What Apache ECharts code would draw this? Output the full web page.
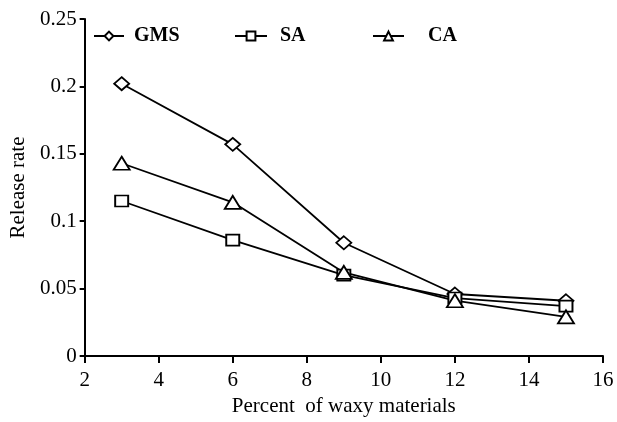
<!DOCTYPE html>
<html>
<head>
<meta charset="utf-8">
<script src="https://cdn.jsdelivr.net/npm/echarts@6/dist/echarts.min.js"></script>
<style>
  html, body { margin: 0; padding: 0; background: #fff; }
  #chart { width: 617px; height: 422px; }
</style>
</head>
<body>
<div id="chart"></div>
<script>
// Release rate versus percentage of waxy material
const percent = [3, 6, 9, 12, 15];
const gms = [0.202, 0.157, 0.084, 0.046, 0.041];
const sa  = [0.115, 0.086, 0.060, 0.043, 0.037];
const ca  = [0.143, 0.114, 0.062, 0.041, 0.029];
const xTicks = [2, 4, 6, 8, 10, 12, 14, 16];
const yTicks = [0, 0.05, 0.1, 0.15, 0.2, 0.25];

const FONT = 'Liberation Serif';

function pairs(ys) { return percent.map((x, i) => [x, ys[i]]); }

function lineSeries(name, ys, symbol, size) {
  return {
    name: name,
    type: 'line',
    data: pairs(ys),
    symbol: symbol,
    symbolSize: size,
    showAllSymbol: true,
    lineStyle: { color: '#000', width: 1.8 },
    itemStyle: { color: '#fff', borderColor: '#000', borderWidth: 1.8 },
    z: 3
  };
}

// one legend block per series so each entry can sit at its own spot
function legendAt(name, left, iconWidth, textPad) {
  return {
    data: [name],
    left: left,
    top: 21,
    itemWidth: iconWidth,
    itemHeight: 11,
    textStyle: {
      fontFamily: FONT, fontSize: 20, color: '#000', fontWeight: 'bold',
      padding: [0, 0, 0, textPad]
    },
    selectedMode: false
  };
}

const chart = echarts.init(document.getElementById('chart'));
chart.setOption({
  animation: false,
  backgroundColor: '#fff',
  grid: { left: 78, right: 14, top: 19, bottom: 58 },
  legend: [
    legendAt('GMS', 88, 30, 5),
    legendAt('SA', 229, 32, 8),
    legendAt('CA', 367, 31, 19)
  ],
  xAxis: {
    type: 'value',
    min: xTicks[0],
    max: xTicks[xTicks.length - 1],
    interval: 2,
    name: 'Percent  of waxy materials',
    nameLocation: 'middle',
    nameGap: 40,
    nameTextStyle: { fontFamily: FONT, fontSize: 21, color: '#000' },
    axisLine: { lineStyle: { color: '#000', width: 2 } },
    axisTick: { show: true, length: 7, lineStyle: { color: '#000', width: 2 } },
    axisLabel: { fontFamily: FONT, fontSize: 21, color: '#000', margin: 14 },
    splitLine: { show: false }
  },
  yAxis: {
    type: 'value',
    min: yTicks[0],
    max: yTicks[yTicks.length - 1],
    interval: 0.05,
    name: 'Release rate',
    nameLocation: 'middle',
    nameGap: 49,
    nameTextStyle: { fontFamily: FONT, fontSize: 21, color: '#000' },
    axisLine: { show: true, lineStyle: { color: '#000', width: 2 } },
    axisTick: { show: true, length: 5, lineStyle: { color: '#000', width: 2 } },
    axisLabel: {
      fontFamily: FONT, fontSize: 21, color: '#000', margin: 8,
      formatter: v => String(parseFloat(v.toFixed(2)))
    },
    splitLine: { show: false }
  },
  series: [
    lineSeries('GMS', gms, 'diamond', [15, 13]),
    lineSeries('SA', sa, 'rect', [13, 11]),
    lineSeries('CA', ca, 'triangle', [16, 13])
  ]
});
</script>
</body>
</html>
